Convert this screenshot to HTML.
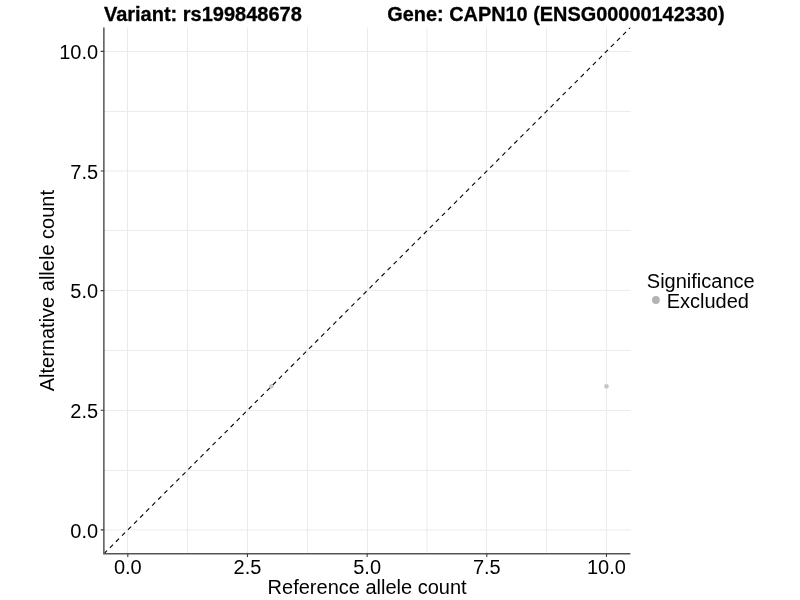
<!DOCTYPE html><html><head><meta charset="utf-8"><title>Allele counts</title>
<style>html,body{margin:0;padding:0;background:#fff}svg{display:block}text{font-family:"Liberation Sans",Arial,Helvetica,sans-serif;font-size:20px;fill:#000}</style></head><body>
<svg width="800" height="600" viewBox="0 0 800 600">
<rect width="800" height="600" fill="#fff"/>
<defs><clipPath id="cp"><rect x="103.87" y="27.48" width="526.51" height="526.32"/></clipPath></defs>
<g fill="none"><path d="M127.50 27.48V553.80M103.87 529.85H630.38" stroke="#ebebeb" stroke-width="1"/><path d="M187.50 27.48V553.80M103.87 470.50H630.38" stroke="#ebebeb" stroke-width="1"/><path d="M247.50 27.48V553.80M103.87 410.50H630.38" stroke="#ebebeb" stroke-width="1"/><path d="M307.50 27.48V553.80M103.87 350.50H630.38" stroke="#ebebeb" stroke-width="1"/><path d="M367.50 27.48V553.80M103.87 290.40H630.38" stroke="#ebebeb" stroke-width="1"/><path d="M426.90 27.48V553.80M103.87 230.50H630.38" stroke="#ebebeb" stroke-width="1"/><path d="M486.50 27.48V553.80M103.87 171.00H630.38" stroke="#ebebeb" stroke-width="1"/><path d="M546.50 27.48V553.80M103.87 111.50H630.38" stroke="#ebebeb" stroke-width="1"/><path d="M606.50 27.48V553.80M103.87 51.50H630.38" stroke="#ebebeb" stroke-width="1"/></g>
<circle cx="271.39" cy="386.35" r="2.3" fill="#c6c6c6"/>
<circle cx="606.45" cy="386.35" r="2.3" fill="#c6c6c6"/>
<path clip-path="url(#cp)" d="M103.87 553.82L639.96 17.90" stroke="#000" stroke-width="1.1" stroke-dasharray="4.4 4.135" fill="none"/>
<path d="M103.87 27.48V553.80H630.38" stroke="#555" stroke-width="1.5" fill="none" stroke-linejoin="miter"/>
<path d="M127.80 553.80v3.2M103.87 529.90h-3.2M247.46 553.80v3.2M103.87 410.27h-3.2M367.12 553.80v3.2M103.87 290.65h-3.2M486.79 553.80v3.2M103.87 171.02h-3.2M606.45 553.80v3.2M103.87 51.40h-3.2" stroke="#3a3a3a" stroke-width="1.07" fill="none"/>
<text x="127.80" y="574" text-anchor="middle">0.0</text>
<text x="98.1" y="538" text-anchor="end">0.0</text>
<text x="247.46" y="574" text-anchor="middle">2.5</text>
<text x="98.1" y="418" text-anchor="end">2.5</text>
<text x="367.12" y="574" text-anchor="middle">5.0</text>
<text x="98.1" y="298" text-anchor="end">5.0</text>
<text x="486.79" y="574" text-anchor="middle">7.5</text>
<text x="98.1" y="179" text-anchor="end">7.5</text>
<text x="606.45" y="574" text-anchor="middle">10.0</text>
<text x="98.1" y="59" text-anchor="end">10.0</text>
<text x="367.12" y="594" text-anchor="middle">Reference allele count</text>
<text transform="translate(54 290.64) rotate(-90)" text-anchor="middle">Alternative allele count</text>
<text x="103.9" y="20.9" font-weight="bold" stroke="#000" stroke-width="0.3" style="font-size:20px">Variant: rs199848678</text>
<text x="387.3" y="20.9" font-weight="bold" stroke="#000" stroke-width="0.3" style="font-size:19.9px">Gene: CAPN10 (ENSG00000142330)</text>
<text x="646.8" y="287.6">Significance</text>
<circle cx="655.9" cy="300" r="3.9" fill="#b3b3b3"/>
<text x="666.7" y="307.5">Excluded</text>
</svg></body></html>
